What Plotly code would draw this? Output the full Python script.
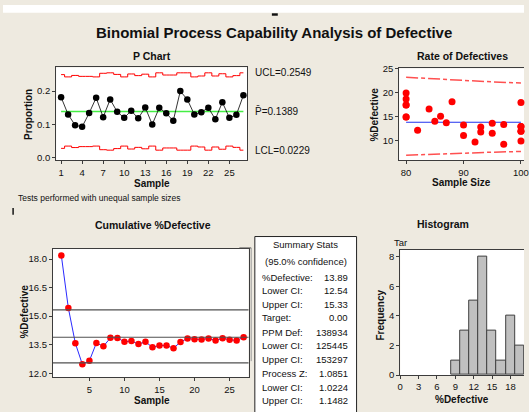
import plotly.graph_objects as go
import numpy as np

# ---------------- data ----------------
samples = list(range(1, 28))
sample_size = [88, 100, 92, 97, 97, 100, 82, 80, 87, 100, 85, 93, 86, 100, 80,
               90, 90, 80, 80, 100, 95, 80, 95, 84, 100, 93, 80]
defectives = [16, 13, 9, 9, 13, 18, 10, 14, 12, 12, 12, 11, 13, 10, 12,
              12, 10, 16, 14, 13, 13, 12, 11, 14, 12, 12, 15]
p_bar = 0.1389
ucl_label = "UCL=0.2549"
cl_label = "P\u0304=0.1389"
lcl_label = "LCL=0.0229"

# rate-of-defectives limit curves
rate_lim_n = [80, 85, 90, 95, 100]
rate_lim_upper = [23.25, 22.9, 22.6, 22.3, 22.05]
rate_lim_lower = [7.0, 7.25, 7.45, 7.65, 7.8]

# summary stats
pct_def, pct_lo, pct_hi = 13.89, 12.54, 15.33
summary_rows = [("%Defective:", "13.89"), ("Lower CI:", "12.54"), ("Upper CI:", "15.33"),
                ("Target:", "0.00"), ("PPM Def:", "138934"), ("Lower CI:", "125445"),
                ("Upper CI:", "153297"), ("Process Z:", "1.0851"), ("Lower CI:", "1.0224"),
                ("Upper CI:", "1.1482")]

# histogram bins
hist_start, hist_size, hist_end = 8.249, 1.5, 20.249

# ---------------- derived ----------------
n = np.array(sample_size, dtype=float)
d = np.array(defectives, dtype=float)
prop = d / n
pct = prop * 100
cum_pct = np.cumsum(d) / np.cumsum(n) * 100
sig = np.sqrt(p_bar * (1 - p_bar) / n)
ucl = p_bar + 3 * sig
lcl = p_bar - 3 * sig

W, H = 529, 412
def fx(x): return x / W
def fy(y): return 1 - y / H

BG = "#EEEAE0"
FRAME = "#3c3c3c"
FONT = "Liberation Sans"

fig = go.Figure()

# P chart
fig.add_trace(go.Scatter(x=samples, y=ucl, mode="lines", line=dict(color="#ff0000", width=1, shape="hvh"),
                         xaxis="x", yaxis="y", hoverinfo="skip"))
fig.add_trace(go.Scatter(x=samples, y=lcl, mode="lines", line=dict(color="#ff0000", width=1, shape="hvh"),
                         xaxis="x", yaxis="y", hoverinfo="skip"))
fig.add_trace(go.Scatter(x=[samples[0], samples[-1]], y=[p_bar, p_bar], mode="lines",
                         line=dict(color="#44ee44", width=1.6), xaxis="x", yaxis="y"))
fig.add_trace(go.Scatter(x=samples, y=prop, mode="lines+markers",
                         line=dict(color="#000000", width=0.8),
                         marker=dict(color="#000000", size=6.5), xaxis="x", yaxis="y"))

# Rate of defectives
fig.add_trace(go.Scatter(x=rate_lim_n, y=rate_lim_upper, mode="lines",
                         line=dict(color="#ff5050", width=1.5, dash="12px,3px,4px,3px"), xaxis="x2", yaxis="y2"))
fig.add_trace(go.Scatter(x=rate_lim_n, y=rate_lim_lower, mode="lines",
                         line=dict(color="#ff5050", width=1.5, dash="12px,3px,4px,3px"), xaxis="x2", yaxis="y2"))
fig.add_trace(go.Scatter(x=[min(sample_size), max(sample_size)], y=[pct_def, pct_def], mode="lines",
                         line=dict(color="#2233ee", width=1.2), xaxis="x2", yaxis="y2"))
fig.add_trace(go.Scatter(x=sample_size, y=pct, mode="markers",
                         marker=dict(color="#ff0000", size=7), xaxis="x2", yaxis="y2", cliponaxis=False))

# Cumulative
fig.add_trace(go.Scatter(x=samples, y=cum_pct, mode="lines+markers",
                         line=dict(color="#2a2aff", width=1),
                         marker=dict(color="#ff0000", size=6.5), xaxis="x3", yaxis="y3"))

# Histogram
fig.add_trace(go.Histogram(x=pct, xbins=dict(start=hist_start, end=hist_end, size=hist_size),
                           marker=dict(color="#c0c0c0", line=dict(color="#404040", width=1)),
                           xaxis="x4", yaxis="y4"))

tickfont = dict(family=FONT, size=9.5, color="#111")
common = dict(showgrid=False, zeroline=False, showline=True, linecolor=FRAME, linewidth=1,
              ticks="outside", ticklen=3, tickcolor=FRAME, tickfont=tickfont)

fig.update_layout(
    width=W, height=H, margin=dict(l=0, r=0, t=0, b=0),
    paper_bgcolor=BG, plot_bgcolor="#ffffff", showlegend=False, bargap=0,
    xaxis=dict(domain=[fx(54), fx(248)], range=[0.3, 27.55], tickvals=[1, 4, 7, 10, 13, 16, 19, 22, 25],
               anchor="y", mirror=True, **common),
    yaxis=dict(domain=[fy(159), fy(64)], range=[-0.007, 0.271], tickvals=[0.0, 0.1, 0.2], tickformat=".1f",
               anchor="x", mirror=True, **common),
    xaxis2=dict(domain=[fx(402.3), 1], range=[78.8, 100.53], tickvals=[80, 90, 100], anchor="y2",
                mirror=True, ticklabeloverflow="allow", **common),
    yaxis2=dict(domain=[fy(159.3), fy(65)], range=[5.93, 25.1], tickvals=[10, 15, 20, 25], anchor="x2",
                mirror=False, **common),
    xaxis3=dict(domain=[fx(50.7), fx(249.3)], range=[-0.2, 27.7], tickvals=[5, 10, 15, 20, 25],
                anchor="y3", mirror=True, **common),
    yaxis3=dict(domain=[fy(381.7), fy(250)], range=[11.78, 18.53], tickvals=[12.0, 13.5, 15.0, 16.5, 18.0],
                tickformat=".1f", anchor="x3", mirror=True, **common),
    xaxis4=dict(domain=[fx(403.3), 1], range=[0, 20.21], tickvals=[0, 3, 6, 9, 12, 15, 18], anchor="y4",
                mirror=True, ticklabeloverflow="allow", **common),
    yaxis4=dict(domain=[fy(379.3), fy(250.7)], range=[0, 8.48], tickvals=[0, 2, 4, 6, 8], anchor="x4",
                mirror=False, **common),
)

shapes = []
# white strip at top and small dash
shapes.append(dict(type="rect", xref="paper", yref="paper", x0=0, x1=1, y0=fy(8), y1=1,
                   fillcolor="#ffffff", line=dict(width=0), layer="below"))
shapes.append(dict(type="rect", xref="paper", yref="paper", x0=fx(273), x1=fx(279), y0=fy(11), y1=fy(8.5),
                   fillcolor="#111", line=dict(width=0)))
# small black bar left
shapes.append(dict(type="rect", xref="paper", yref="paper", x0=fx(9.5), x1=fx(11), y0=fy(215), y1=fy(208),
                   fillcolor="#111", line=dict(width=0)))
# cumulative reference lines
for v in [pct_hi, pct_def, pct_lo]:
    shapes.append(dict(type="line", xref="x3 domain", yref="y3", x0=0, x1=1, y0=v, y1=v,
                       line=dict(color="#505050", width=1.2)))
# gray frame behind summary box
shapes.append(dict(type="line", xref="paper", yref="paper", x0=fx(240), x1=fx(252), y0=fy(249), y1=fy(249),
                   line=dict(color="#505050", width=1)))
shapes.append(dict(type="line", xref="paper", yref="paper", x0=fx(252), x1=fx(252), y0=fy(249), y1=fy(365),
                   line=dict(color="#9a9a9a", width=1)))
# summary box
shapes.append(dict(type="rect", xref="paper", yref="paper", x0=fx(255.7), x1=fx(359), y0=fy(425), y1=fy(237.3),
                   fillcolor="#ffffff", line=dict(color="#222", width=1)))
fig.update_layout(shapes=shapes)

ann = []
def add_text(x, y, text, size=10, bold=False, angle=0, xanchor="center", yanchor="middle", color="#111"):
    ann.append(dict(x=fx(x), y=fy(y), xref="paper", yref="paper", text=("<b>%s</b>" % text) if bold else text,
                    showarrow=False, textangle=angle, xanchor=xanchor, yanchor=yanchor,
                    font=dict(family=FONT, size=size, color=color)))

add_text(275, 28, "Binomial Process Capability Analysis of Defective", size=15, bold=True)
add_text(151, 52, "P Chart", size=10.5, bold=True)
add_text(466.5, 52, "Rate of Defectives", size=10.5, bold=True)
add_text(152, 225, "Cumulative %Defective", size=10.5, bold=True)
add_text(447, 224, "Histogram", size=10.5, bold=True)

add_text(151, 182.5, "Sample", size=10, bold=True)
add_text(26, 112, "Proportion", size=10, bold=True, angle=-90)
add_text(466, 182, "Sample Size", size=10, bold=True)
add_text(377, 112, "%Defective", size=10, bold=True, angle=-90)
add_text(151.5, 405, "Sample", size=10, bold=True)
add_text(21.5, 314, "%Defective", size=10, bold=True, angle=-90)
add_text(466, 404, "%Defective", size=10, bold=True)
add_text(383, 318, "Frequency", size=10, bold=True, angle=-90)
add_text(404, 243, "Tar", size=9.5)
add_text(13, 198, "Tests performed with unequal sample sizes", size=8.5, xanchor="left")

# control limit labels
for val, lab in [(ucl[-1], ucl_label), (p_bar, cl_label), (lcl[-1], lcl_label)]:
    ann.append(dict(x=fx(254), y=val, xref="paper", yref="y", text=lab, showarrow=False,
                    xanchor="left", yanchor="middle", font=dict(family=FONT, size=10, color="#111")))

# summary stats text
add_text(307.5, 245.5, "Summary Stats", size=9.5)
add_text(307.5, 263, "(95.0% confidence)", size=9.5)
row_y = [279, 292.7, 306.7, 320.3, 335.7, 348.7, 363.3, 377.3, 392.3, 405.7]
for (lab, val), yy in zip(summary_rows, row_y):
    add_text(261, yy, lab, size=9.5, xanchor="left")
    add_text(352, yy, val, size=9.5, xanchor="right")

fig.update_layout(annotations=ann)

fig.write_html("out.html")
